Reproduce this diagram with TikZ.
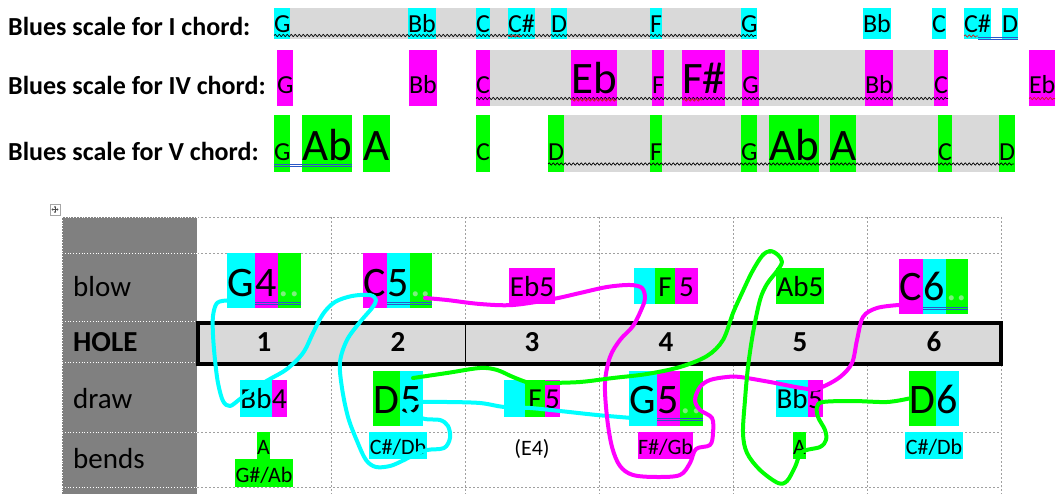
\documentclass[tikz,border=0pt]{standalone}
\usepackage{fontspec}
\setmainfont{Carlito}
\usetikzlibrary{arrows.meta,decorations.pathmorphing}
\definecolor{hcyan}{HTML}{00FFFF}
\definecolor{hmag}{HTML}{FF00FF}
\definecolor{hgreen}{HTML}{00FF00}
\definecolor{band}{HTML}{D9D9D9}
\definecolor{colgray}{HTML}{808080}
\definecolor{gridgray}{HTML}{A0A0A0}
\definecolor{dotgreen}{HTML}{7CF07C}
\definecolor{ulblue}{HTML}{2B56C8}
\definecolor{spellred}{HTML}{D02020}
\newcommand{\fsz}[1]{\fontsize{#1}{#1}\selectfont}
\newcommand{\hidot}{\textcolor{dotgreen}{..}}
% highlighted note: name, colour, x1, x2, top, baseline, bottom, size, text
\newcommand{\notebox}[9]{%
  \pgfmathsetmacro\nbw{#4-#3}%
  \pgfmathsetmacro\nbh{#6-#5}%
  \pgfmathsetmacro\nbd{#7-#6}%
  \node[hl, fill=#2, minimum width=\nbw pt, text height=\nbh pt, text depth=\nbd pt, font=\fsz{#8}] (#1) at (#3,#6) {#9};}
% blue double underline: x1, x2, y
\newcommand{\dblul}[3]{\draw[uline] (#1,#3) -- (#2,#3) (#1,#3+2.3) -- (#2,#3+2.3);}

\tikzset{
  hl/.style={inner sep=0pt, outer sep=0pt, anchor=base west},
  toplbl/.style={inner sep=0pt, anchor=base west, font=\fsz{26}\bfseries},
  rowlbl/.style={inner sep=0pt, anchor=base west, font=\fsz{29}},
  holenum/.style={inner sep=0pt, anchor=base, font=\fsz{29}\bfseries},
  wavy/.style={decorate, decoration={snake, amplitude=1.1pt, segment length=4pt}, line width=0.7pt},
  uline/.style={ulblue, line width=0.7pt},
  ink/.style={draw=#1, line width=4pt, line cap=round, line join=round},
}

\begin{document}
\begin{tikzpicture}[x=1pt, y=-1pt]
    \useasboundingbox (0,0) rectangle (1063,494);

    % scales
    \node[toplbl] (lab1) at (8,35.5) {Blues scale for I chord:};
    \node[toplbl] (lab4) at (8,94.5) {Blues scale for IV chord:};
    \node[toplbl] (lab5) at (8,160.5) {Blues scale for V chord:};

    \fill[band] (274,8) rectangle (756,39.5);
    \fill[band] (476,50) rectangle (948,106);
    \fill[band] (548,115) rectangle (1014,172);

    \notebox{i1}{hcyan}{274}{290}{8}{32.5}{39.5}{26}{G}
    \notebox{i2}{hcyan}{408}{436}{8}{32.5}{39.5}{26}{Bb}
    \notebox{i3}{hcyan}{476}{490}{8}{32.5}{39.5}{26}{C}
    \notebox{i4}{hcyan}{508}{534}{8}{32.5}{39.5}{26}{C\#}
    \notebox{i5}{hcyan}{551}{567}{8}{32.5}{39.5}{26}{D}
    \notebox{i6}{hcyan}{650}{662}{8}{32.5}{39.5}{26}{F}
    \notebox{i7}{hcyan}{741}{756}{8}{32.5}{39.5}{26}{G}
    \notebox{i8}{hcyan}{863}{890}{8}{32.5}{39.5}{26}{Bb}
    \notebox{i9}{hcyan}{932}{946}{8}{32.5}{39.5}{26}{C}
    \notebox{i10}{hcyan}{964}{991}{8}{32.5}{39.5}{26}{C\#}
    \notebox{i11}{hcyan}{1002}{1018}{8}{32.5}{39.5}{26}{D}

    \notebox{iv1}{hmag}{277}{293}{50}{94}{106}{26}{G}
    \notebox{iv2}{hmag}{409}{436}{50}{94}{106}{26}{Bb}
    \notebox{iv3}{hmag}{476}{490}{50}{94}{106}{26}{C}
    \notebox{iv4}{hmag}{571}{617}{50}{94}{106}{45}{Eb}
    \notebox{iv5}{hmag}{652}{664}{50}{94}{106}{26}{F}
    \notebox{iv6}{hmag}{682}{724}{50}{94}{106}{45}{F\#}
    \notebox{iv7}{hmag}{742}{759}{50}{94}{106}{26}{G}
    \notebox{iv8}{hmag}{865}{892}{50}{94}{106}{26}{Bb}
    \notebox{iv9}{hmag}{934}{948}{50}{94}{106}{26}{C}
    \notebox{iv10}{hmag}{1029}{1055}{50}{94}{106}{26}{Eb}

    \notebox{v1}{hgreen}{274}{290}{115}{160.5}{172}{26}{G}
    \notebox{v2}{hgreen}{302}{352}{115}{160.5}{172}{45}{Ab}
    \notebox{v3}{hgreen}{363}{390}{115}{160.5}{172}{45}{A}
    \notebox{v4}{hgreen}{476}{490}{115}{160.5}{172}{26}{C}
    \notebox{v5}{hgreen}{548}{564}{115}{160.5}{172}{26}{D}
    \notebox{v6}{hgreen}{650}{662}{115}{160.5}{172}{26}{F}
    \notebox{v7}{hgreen}{741}{757}{115}{160.5}{172}{26}{G}
    \notebox{v8}{hgreen}{769}{818}{115}{160.5}{172}{45}{Ab}
    \notebox{v9}{hgreen}{830}{856}{115}{160.5}{172}{45}{A}
    \notebox{v10}{hgreen}{938}{951}{115}{160.5}{172}{26}{C}
    \notebox{v11}{hgreen}{999}{1014}{115}{160.5}{172}{26}{D}

    % squiggles
    \draw[wavy] (274,35.5) -- (756,35.5);
    \draw[wavy, spellred] (508,36) -- (522,36);
    \draw[wavy, spellred] (964,36) -- (978,36);
    \dblul{978}{1018}{37.5}
    \draw[wavy] (476,98.5) -- (948,98.5);
    \draw[wavy, spellred] (571,100) -- (617,100);
    \draw[wavy, spellred] (683,100) -- (702,100);
    \draw[wavy, spellred] (1029,98.5) -- (1055,98.5);
    \draw[wavy] (548,164) -- (1014,164);
    \dblul{274}{352}{164}

    % table
    \draw[gray!70, line width=0.7pt] (50,204) rectangle (60,215);
    \foreach \a/\b in {0/-3.5, 0/3.5, -3.5/0, 3.5/0}
      \draw[-{Stealth[length=1.6pt, width=2.4pt]}, line width=0.5pt, black!70] (55,209.5) -- ++(\a,\b);

    \fill[colgray] (62,217) rectangle (197,494);
    \foreach \y in {217,253,432,487}
      \draw[gridgray, dash pattern=on 2pt off 2pt, line width=0.7pt] (197,\y) -- (1001,\y);
    \foreach \x in {331,465,599,733,867,1001}
      \draw[gridgray, dash pattern=on 2pt off 2pt, line width=0.7pt] (\x,217) -- (\x,494);
    \foreach \y in {217,253,321,362,432,487}
      \draw[white, dotted, line width=0.8pt] (62,\y) -- (197,\y);
    \foreach \x in {62,197}
      \draw[white, dotted, line width=0.8pt] (\x,217) -- (\x,494);
    \draw[fill=band, line width=4pt] (197.5,323) rectangle (1000.5,363.5);
    \draw[line width=0.8pt] (465,325) -- (465,361.5);

    \node[rowlbl] (blow) at (73,297) {blow};
    \node[rowlbl, font=\fsz{29}\bfseries] (hole) at (73,352) {HOLE};
    \node[rowlbl] (draw) at (73,408) {draw};
    \node[rowlbl] (bends) at (73,468) {bends};
    \foreach \n/\x in {1/264,2/398,3/532,4/666,5/800,6/934}
      \node[holenum] (h\n) at (\x,352) {\n};

    % blow
    \notebox{g4a}{hcyan}{227}{255}{253}{297}{308}{42}{G}
    \notebox{g4b}{hmag}{255}{278}{253}{297}{308}{42}{4}
    \notebox{g4c}{hgreen}{278}{301}{253}{297}{308}{42}{\hidot}
    \notebox{c5a}{hmag}{363}{387}{253}{297}{308}{42}{C}
    \notebox{c5b}{hcyan}{387}{410}{253}{297}{308}{42}{5}
    \notebox{c5c}{hgreen}{410}{432}{253}{297}{308}{42}{\hidot}
    \notebox{eb5}{hmag}{509}{555}{268}{297}{304}{29}{Eb5}
    \notebox{f5a}{hcyan}{634}{655}{268}{297}{304}{29}{}
    \notebox{f5b}{hgreen}{655}{675}{268}{297}{304}{29}{F}
    \notebox{f5c}{hmag}{675}{698}{268}{297}{304}{29}{5}
    \notebox{ab5}{hgreen}{776}{824}{268}{297}{304}{29}{Ab5}
    \notebox{c6a}{hmag}{899}{923}{259}{301}{314}{42}{C}
    \notebox{c6b}{hcyan}{923}{946}{259}{301}{314}{42}{6}
    \notebox{c6c}{hgreen}{946}{968}{259}{301}{314}{42}{\hidot}
    \dblul{255}{301}{302}
    \dblul{387}{432}{302}
    \dblul{923}{968}{307}

    % draw
    \notebox{bb4a}{hcyan}{240}{272}{380}{408}{417}{29}{Bb}
    \notebox{bb4b}{hmag}{272}{287}{380}{408}{417}{29}{4}
    \notebox{d5a}{hgreen}{373}{400}{371}{413.5}{426}{42}{D}
    \notebox{d5b}{hcyan}{400}{423}{371}{413.5}{426}{42}{5}
    \notebox{f5d}{hcyan}{504}{525}{380}{408}{417}{29}{}
    \notebox{f5e}{hgreen}{525}{545}{380}{408}{417}{29}{F}
    \notebox{f5f}{hmag}{545}{560}{380}{408}{417}{29}{5}
    \notebox{g5a}{hcyan}{629}{657}{371}{413.5}{426}{42}{G}
    \notebox{g5b}{hmag}{657}{680}{371}{413.5}{426}{42}{5}
    \notebox{g5c}{hgreen}{680}{703}{371}{413.5}{426}{42}{\hidot}
    \notebox{bb5a}{hcyan}{776}{808}{380}{408}{417}{29}{Bb}
    \notebox{bb5b}{hmag}{808}{823}{380}{408}{417}{29}{5}
    \notebox{d6a}{hgreen}{909}{936}{371}{413.5}{426}{42}{D}
    \notebox{d6b}{hcyan}{936}{959}{371}{413.5}{426}{42}{6}
    \dblul{657}{703}{418}

    % bends
    \notebox{b1a}{hgreen}{257}{270}{432}{454}{459}{22}{A}
    \notebox{b1b}{hgreen}{235}{293}{459}{482}{487}{22}{G\#/Ab}
    \notebox{b2}{hcyan}{369}{427}{432}{454}{459}{22}{C\#/Db}
    \node[inner sep=0pt, anchor=base, font=\fsz{22}] (b3) at (532,455) {(E4)};
    \notebox{b4}{hmag}{638}{693}{432}{454}{459}{22}{F\#/Gb}
    \notebox{b5}{hgreen}{793}{806}{432}{454}{459}{22}{A}
    \notebox{b6}{hcyan}{905}{963}{432}{454}{459}{22}{C\#/Db}

    % ink
    \coordinate (c5ink) at (425,298);
    \coordinate (d5ink) at (413,378);
    \draw[ink=hcyan] plot[smooth, tension=0.55] coordinates {(g4a.235) (217,303) (213,316) (213,335) (215,360)
      (218,383) (223,401) (230,406) (240,399) (255,388) (270,379) (287,369) (303,353) (313,333) (323,314)
      (335,302) (352,296) (370,295) (376,300) (372,308) (360,322) (347,340) (340,362) (342,388) (348,417)
      (357,441) (366,460) (376,467) (390,466) (402,461) (414,455) (427,450) (444,448) (450,438) (448,426)
      (440,420) (425,419) (410,413) (409,405) (423,402) (447,402) (480,403) (504,407) (530,408) (560,411)
      (597,415) (g5a.234)};
    \draw[ink=hmag] plot[smooth, tension=0.55] coordinates {(c5ink) (447,300) (480,304) (513,305) (553,299)
      (580,293) (607,287) (630,285) (642,288) (645,298) (642,308) (633,326) (620,340) (610,357) (605,383)
      (607,417) (612,447) (620,466) (633,475) (657,477) (680,475) (690,463) (696,449) (710,445) (713,433)
      (712,418) (700,410) (695,400) (700,387) (710,380) (727,377) (740,377) (770,382) (808,389) (822,387)
      (840,377) (852,363) (857,340) (863,317) (877,308) (c6a.237)};
    \draw[ink=hgreen] plot[smooth, tension=0.55] coordinates {(d5ink) (447,373) (480,368) (497,370) (513,377)
      (530,383) (547,383) (580,382) (613,378) (647,374) (680,367) (707,356) (723,340) (733,313) (742,293)
      (752,272) (762,256) (770,251) (778,255) (782,262) (777,271) (767,284) (760,300) (753,333) (748,367)
      (745,400) (743,433) (747,453) (760,470) (778,483) (787,481) (795,467) (802,452) (820,447) (826,440)
      (825,430) (818,417) (817,407) (823,402) (853,401) (887,402) (d6a.west)};
\end{tikzpicture}
\end{document}
